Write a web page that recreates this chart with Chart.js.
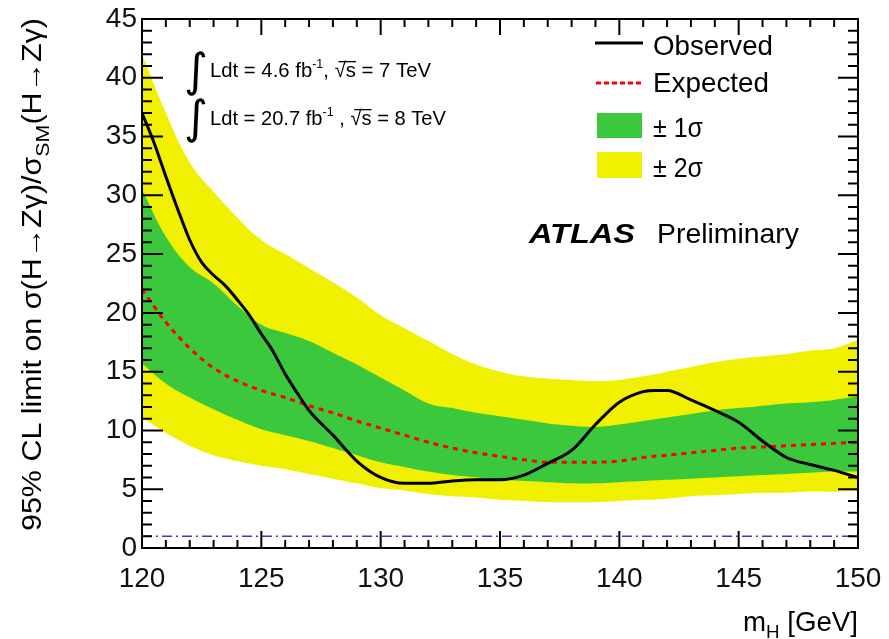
<!DOCTYPE html>
<html><head><meta charset="utf-8">
<script src="https://cdn.jsdelivr.net/npm/chart.js@4"></script>
<style>html,body{margin:0;padding:0;background:#fff}</style>
</head><body>
<canvas id="c" width="889" height="639" style="display:block"></canvas>
<script>
// ---------------- data ----------------
const bandMass = [120,121,122,123,124,125,126,127,128,129,130,131,132,133,134,135,136,137,138,139,140,141,142,143,144,145,146,147,148,149,150];
const plus2Sigma  = [42,37,32.8,30.3,28.1,26.2,25.0,23.8,22.6,21.3,19.8,18.7,17.6,16.5,15.6,15.0,14.6,14.4,14.3,14.2,14.3,14.6,15.0,15.4,15.8,16.1,16.3,16.5,16.8,17.0,17.7];
const plus1Sigma  = [30.5,26.5,23.9,22.5,20.6,19.0,18.3,17.6,16.6,15.6,14.5,13.4,12.3,11.9,11.5,11.2,10.9,10.6,10.4,10.3,10.5,10.8,11.1,11.4,11.7,11.9,12.1,12.3,12.4,12.6,12.9];
const minus1Sigma = [15.7,14.0,12.8,11.8,10.9,10.1,9.6,9.1,8.5,7.9,7.3,6.9,6.5,6.2,6.0,5.8,5.7,5.6,5.5,5.5,5.6,5.7,5.8,5.9,6.0,6.1,6.2,6.3,6.4,6.5,6.5];
const minus2Sigma = [11.1,9.8,8.7,7.9,7.4,7.0,6.7,6.3,5.9,5.5,5.1,4.9,4.6,4.4,4.3,4.1,4.0,3.9,3.9,3.9,4.0,4.1,4.2,4.4,4.5,4.6,4.7,4.7,4.8,4.8,4.9];
const expectedLimit = [22,19.2,17.0,15.3,14.2,13.4,12.8,12.1,11.5,10.8,10.2,9.6,9.0,8.5,8.1,7.8,7.5,7.3,7.3,7.3,7.4,7.7,7.9,8.1,8.3,8.5,8.6,8.7,8.8,8.9,9.0];
const observedMass  = [120,120.5,121,121.5,122,122.5,123,123.5,124,124.5,125,125.5,126,126.5,127,128,129,130,131,132,133,134,135,136,137,138,139,140,141,141.5,142,143,144,145,146,147,148,149,150];
const observedLimit = [37,34.5,31.6,28.8,26.2,24.3,23.2,22.3,21.1,19.8,18.2,16.7,14.8,13.2,11.7,9.6,7.4,6.0,5.5,5.5,5.7,5.8,5.8,6.2,7.2,8.3,10.5,12.4,13.3,13.4,13.4,12.6,11.7,10.7,9.1,7.7,7.1,6.6,6.0];
const smMass = [120,150];
const smLine = [1,1];
const xTicks = [120,125,130,135,140,145,150];
const yTicks = [0,5,10,15,20,25,30,35,40,45];

// ---------------- helpers ----------------
const pts = (xs, ys) => xs.map((x,i)=>({x:x,y:ys[i]}));
const GREEN = 'rgb(60,200,60)';
const YELLOW = 'rgb(240,240,0)';
const FONT = '"Liberation Sans", Arial, Helvetica, sans-serif';

function drawPieces(ctx, pieces, x, y, targetW) {
  let w = 0;
  pieces.forEach(p => { ctx.font = (p.style||'') + ' ' + p.size + 'px ' + FONT; p.w = ctx.measureText(p.t).width; w += p.w; });
  const sx = targetW ? targetW / w : 1;
  ctx.save();
  ctx.translate(x, y);
  ctx.scale(sx, 1);
  let cx = 0;
  pieces.forEach(p => {
    ctx.font = (p.style||'') + ' ' + p.size + 'px ' + FONT;
    ctx.fillText(p.t, cx, p.dy||0);
    if (p.over) { ctx.fillRect(cx + p.over[0], -p.over[1], p.w - p.over[0], 1.3); }
    cx += p.w;
  });
  ctx.restore();
  return w * sx;
}

const decor = {
  id: 'decor',
  afterDraw(chart) {
    const ctx = chart.ctx;
    const a = chart.chartArea;
    const xs = chart.scales.x, ys = chart.scales.y;
    ctx.save();
    ctx.strokeStyle = '#000';
    ctx.fillStyle = '#000';
    ctx.lineWidth = 2;
    ctx.beginPath();
    for (let v = 120; v <= 150; v++) {
      const px = xs.getPixelForValue(v);
      const major = v % 5 === 0;
      ctx.moveTo(px, a.bottom); ctx.lineTo(px, a.bottom - (major ? 17 : 8));
      ctx.moveTo(px, a.top); ctx.lineTo(px, a.top + (major ? 16 : 8));
    }
    for (let v = 0; v <= 45; v++) {
      const py = ys.getPixelForValue(v);
      const major = v % 5 === 0;
      ctx.moveTo(a.left, py); ctx.lineTo(a.left + (major ? 21 : 10), py);
      ctx.moveTo(a.right, py); ctx.lineTo(a.right - (major ? 20 : 10), py);
    }
    ctx.stroke();
    ctx.strokeRect(a.left, a.top, a.right - a.left, a.bottom - a.top);

    ctx.textBaseline = 'alphabetic';
    ctx.textAlign = 'left';
    // y title
    ctx.save();
    ctx.translate(41, 531);
    ctx.rotate(-Math.PI/2);
    drawPieces(ctx, [
      {t:'95% CL limit on \u03C3(H\u2192Z\u03B3)/\u03C3', size:27},
      {t:'SM', size:19, dy:8},
      {t:'(H\u2192Z\u03B3)', size:27}
    ], 0, 0, 513);
    ctx.restore();
    // x title
    drawPieces(ctx, [
      {t:'m', size:28},
      {t:'H', size:19, dy:7},
      {t:' [GeV]', size:28}
    ], 743, 631, 115);

    // legend
    ctx.lineWidth = 3;
    ctx.beginPath(); ctx.moveTo(595, 43); ctx.lineTo(643, 43); ctx.stroke();
    ctx.strokeStyle = '#ff0000'; ctx.setLineDash([5,3]);
    ctx.beginPath(); ctx.moveTo(596, 83); ctx.lineTo(642, 83); ctx.stroke();
    ctx.setLineDash([]);
    ctx.fillStyle = GREEN; ctx.fillRect(597, 113, 45, 25);
    ctx.fillStyle = YELLOW; ctx.fillRect(597, 152, 45, 26);
    ctx.fillStyle = '#000';
    drawPieces(ctx, [{t:'Observed', size:28}], 653, 55, 120);
    drawPieces(ctx, [{t:'Expected', size:28}], 653, 92, 116);
    drawPieces(ctx, [{t:'\u00B1 1\u03C3', size:27}], 653, 137, 50);
    drawPieces(ctx, [{t:'\u00B1 2\u03C3', size:27}], 653, 177, 50);

    // ATLAS Preliminary
    drawPieces(ctx, [{t:'ATLAS', size:28, style:'italic bold'}], 529, 243, 106);
    drawPieces(ctx, [{t:'Preliminary', size:28}], 657, 243, 142);

    // luminosity annotations
    ctx.font = '46px "DejaVu Sans", sans-serif';
    ctx.fillText('\u222B', 184, 86);
    ctx.fillText('\u222B', 184, 133);
    drawPieces(ctx, [
      {t:'Ldt = 4.6 fb', size:21},
      {t:'-1', size:13, dy:-9},
      {t:', ', size:21},
      {t:'\u221As', size:21, over:[4,16]},
      {t:' = 7 TeV', size:21}
    ], 210, 77, 221);
    drawPieces(ctx, [
      {t:'Ldt = 20.7 fb', size:21},
      {t:'-1', size:13, dy:-9},
      {t:' , ', size:21},
      {t:'\u221As', size:21, over:[4,16]},
      {t:' = 8 TeV', size:21}
    ], 210, 125, 236);
    ctx.restore();
  }
};

new Chart(document.getElementById('c'), {
  type: 'line',
  data: {
    datasets: [
      {label:'+2s', data: pts(bandMass, plus2Sigma), fill: 1, backgroundColor: YELLOW, borderWidth: 0, pointRadius: 0, order: 10, tension: 0.4},
      {label:'-2s', data: pts(bandMass, minus2Sigma), fill: false, borderWidth: 0, pointRadius: 0, order: 11, tension: 0.4},
      {label:'+1s', data: pts(bandMass, plus1Sigma), fill: 3, backgroundColor: GREEN, borderWidth: 0, pointRadius: 0, order: 8, tension: 0.4},
      {label:'-1s', data: pts(bandMass, minus1Sigma), fill: false, borderWidth: 0, pointRadius: 0, order: 9, tension: 0.4},
      {label:'SM', data: pts(smMass, smLine), borderColor: '#3b3bd0', borderWidth: 1.5, borderDash: [10,4,2,4], pointRadius: 0, fill: false, order: 3},
      {label:'Expected', data: pts(bandMass, expectedLimit), borderColor: '#ff0000', borderWidth: 3, borderDash: [5,5], pointRadius: 0, fill: false, order: 2, cubicInterpolationMode: 'monotone'},
      {label:'Observed', data: pts(observedMass, observedLimit), borderColor: '#000', borderWidth: 3, pointRadius: 0, fill: false, order: 1, cubicInterpolationMode: 'monotone'}
    ]
  },
  options: {
    responsive: false,
    animation: false,
    devicePixelRatio: 1,
    layout: { padding: { left: 0, right: 31, top: 19, bottom: 0 } },
    plugins: { legend: { display: false }, tooltip: { enabled: false }, title: { display: false } },
    scales: {
      x: {
        type: 'linear', min: 120, max: 150,
        afterBuildTicks: s => { s.ticks = xTicks.map(v => ({value: v})); },
        ticks: { font: { size: 28, family: FONT }, color: '#111', padding: 14, maxRotation: 0, autoSkip: false },
        grid: { display: false, drawTicks: false },
        border: { display: false },
        afterFit: s => { s.height = 91; s.paddingLeft = 0; s.paddingRight = 0; }
      },
      y: {
        type: 'linear', min: 0, max: 45,
        afterBuildTicks: s => { s.ticks = yTicks.map(v => ({value: v})); },
        ticks: { font: { size: 28, family: FONT }, color: '#111', padding: 5, autoSkip: false },
        grid: { display: false, drawTicks: false },
        border: { display: false },
        afterFit: s => { s.width = 142; s.paddingTop = 0; s.paddingBottom = 0; }
      }
    }
  },
  plugins: [decor]
});
</script>
</body></html>
